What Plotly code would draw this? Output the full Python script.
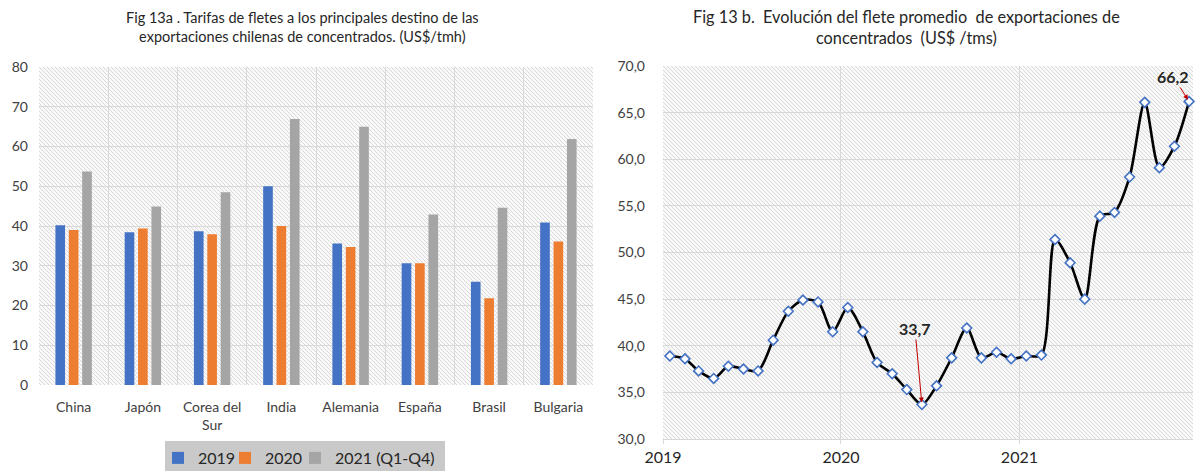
import base64
import plotly.graph_objects as go

# ---------------- data ----------------
categories = ["China", "Japón", "Corea del<br>Sur", "India", "Alemania", "España", "Brasil", "Bulgaria"]
v2019 = [40.2, 38.4, 38.7, 50.0, 35.6, 30.6, 26.0, 40.9]
v2020 = [39.0, 39.4, 37.9, 40.0, 34.7, 30.6, 21.8, 36.1]
v2021 = [53.7, 44.9, 48.5, 66.9, 65.0, 42.9, 44.6, 61.9]
series_names = ["2019", "2020", "2021 (Q1-Q4)"]

years = [2019, 2020, 2021]
months = [f"{y}-{m:02d}-15" for y in years for m in range(1, 13)]
flete = [38.9, 38.6, 37.3, 36.5, 37.8, 37.5, 37.3, 40.6, 43.7, 44.9, 44.7, 41.5,
         44.1, 41.5, 38.2, 37.0, 35.3, 33.7, 35.7, 38.7, 41.9, 38.7, 39.3, 38.6,
         38.9, 39.0, 51.4, 48.9, 45.0, 53.9, 54.3, 58.1, 66.1, 59.1, 61.4, 66.2]

W, H = 1195, 471
FONT = "Lato"
TXT = "#404040"
GRID = "#d9d9d9"
NB = "\u00a0"

# plot-area pixel boxes
L1, R1, T1, B1 = 39, 593, 67, 385
L2, R2, T2, B2 = 663, 1193, 66, 439


def dom_x(a, b):
    return [a / W, b / W]


def dom_y(t, b):
    return [1 - b / H, 1 - t / H]


def hatch_uri(w, h):
    svg = (f'<svg xmlns="http://www.w3.org/2000/svg" width="{w}" height="{h}" '
           f'viewBox="0 0 {w} {h}" preserveAspectRatio="none">'
           '<defs><pattern id="p" width="4" height="4" patternUnits="userSpaceOnUse">'
           '<path d="M-1,-1 L5,5 M-1,3 L1,5 M3,-1 L5,1" stroke="#dadada" stroke-width="1"/>'
           '</pattern></defs>'
           '<rect width="100%" height="100%" fill="#f9f9f9"/>'
           '<rect width="100%" height="100%" fill="url(#p)"/></svg>')
    return "data:image/svg+xml;base64," + base64.b64encode(svg.encode()).decode()


fig = go.Figure()

colors = ["#4472C4", "#ED7D31", "#A5A5A5"]
legends = ["legend", "legend2", "legend3"]
legend_x = [158, 225, 295]
xidx = list(range(len(categories)))
for name, vals, col, lg in zip(series_names, [v2019, v2020, v2021], colors, legends):
    fig.add_trace(go.Bar(x=xidx, y=vals, name=name, marker_color=col,
                         marker_line_width=0, xaxis="x", yaxis="y", legend=lg))

fig.add_trace(go.Scatter(
    x=months, y=flete, mode="lines+markers", xaxis="x2", yaxis="y2",
    line=dict(color="black", width=2.6, shape="spline", smoothing=0.8),
    marker=dict(symbol="diamond", size=7.5, color="white",
                line=dict(color="#4472C4", width=1.6)),
    showlegend=False, cliponaxis=False))

LEG_TOP = 1 - 441 / H
legend_layouts = {
    lg: dict(orientation="h", x=lx / W, y=LEG_TOP, xanchor="left", yanchor="top",
             bgcolor="rgba(0,0,0,0)", font=dict(size=16, color="#262626"),
             itemwidth=30, tracegroupgap=0)
    for lg, lx in zip(legends, legend_x)
}

fig.update_layout(
    width=W, height=H,
    margin=dict(l=0, r=0, t=0, b=0, pad=0, autoexpand=False),
    paper_bgcolor="white", plot_bgcolor="rgba(0,0,0,0)",
    separators=",.",
    font=dict(family=FONT, color=TXT, size=14),
    barmode="group", bargap=0.42, bargroupgap=0.28,
    xaxis=dict(domain=dom_x(L1, R1), anchor="y", range=[-0.5, 7.5], automargin=False,
               tickvals=xidx, ticktext=categories, showgrid=False,
               zeroline=False, showline=False, ticks="",
               tickfont=dict(size=14, color=TXT), ticklabelstandoff=12,
               minor=dict(tickmode="linear", tick0=-0.5, dtick=1, showgrid=True,
                          gridcolor=GRID, gridwidth=1, ticks="")),
    yaxis=dict(domain=dom_y(T1, B1), anchor="x", range=[0, 80], dtick=10, automargin=False,
               showgrid=True, gridcolor=GRID, zeroline=False, showline=False,
               tickfont=dict(size=14, color=TXT), ticklabelstandoff=10),
    xaxis2=dict(domain=dom_x(L2, R2), anchor="y2", type="date", automargin=False,
                range=["2019-01-01", "2021-12-23"],
                tickvals=[f"{y}-01-01" for y in years], ticktext=[str(y) for y in years],
                showgrid=True, gridcolor=GRID, zeroline=False,
                showline=True, linecolor=GRID, ticks="outside", ticklen=4,
                tickcolor=GRID, tickfont=dict(size=16, color="#262626"),
                ticklabelstandoff=0),
    yaxis2=dict(domain=dom_y(T2, B2), anchor="x2", range=[30, 70], dtick=5, automargin=False,
                tickformat=".1f", showgrid=True, gridcolor=GRID, zeroline=False,
                showline=False, tickfont=dict(size=14, color=TXT),
                ticklabelstandoff=17),
    shapes=[dict(type="rect", xref="paper", yref="paper", x0=165 / W, x1=445 / W,
                 y0=0, y1=LEG_TOP, fillcolor="#c9c9c9", line=dict(width=0),
                 layer="below")],
    images=[
        dict(source=hatch_uri(R1 - L1, B1 - T1), xref="paper", yref="paper",
             x=L1 / W, y=1 - T1 / H, sizex=(R1 - L1) / W, sizey=(B1 - T1) / H,
             sizing="stretch", layer="below", xanchor="left", yanchor="top"),
        dict(source=hatch_uri(R2 - L2, B2 - T2), xref="paper", yref="paper",
             x=L2 / W, y=1 - T2 / H, sizex=(R2 - L2) / W, sizey=(B2 - T2) / H,
             sizing="stretch", layer="below", xanchor="left", yanchor="top"),
    ],
    annotations=[
        dict(text="Fig 13a . Tarifas de fletes a los principales destino de las<br>"
                  "exportaciones chilenas de concentrados. (US$/tmh)",
             xref="paper", yref="paper", x=302 / W, y=1 - 7 / H, xanchor="center",
             yanchor="top", showarrow=False, align="center",
             font=dict(size=14.5, color="#262626", family=FONT)),
        dict(text=f"Fig 13 b.{NB} Evolución del flete promedio{NB} de exportaciones de<br>"
                  f"concentrados{NB} (US$ /tms)",
             xref="paper", yref="paper", x=906 / W, y=1 - 5 / H, xanchor="center",
             yanchor="top", showarrow=False, align="center",
             font=dict(size=16.3, color="#262626", family=FONT)),
        dict(text="<b>33,7</b>", x=months[17], y=flete[17], xref="x2", yref="y2",
             ax=-7, ay=-76, showarrow=True, arrowhead=2, arrowsize=1,
             arrowwidth=1, arrowcolor="#C00000", standoff=2,
             font=dict(size=16, color="#262626", family=FONT)),
        dict(text="<b>66,2</b>", x=months[35], y=flete[35], xref="x2", yref="y2",
             ax=-16, ay=-25, showarrow=True, arrowhead=2, arrowsize=1,
             arrowwidth=1, arrowcolor="#C00000", standoff=2,
             font=dict(size=16, color="#262626", family=FONT)),
    ],
    **legend_layouts,
)

fig.write_html("out.html", config={"displayModeBar": False},
               post_script="document.body.style.margin='0';document.body.style.overflow='hidden';")
